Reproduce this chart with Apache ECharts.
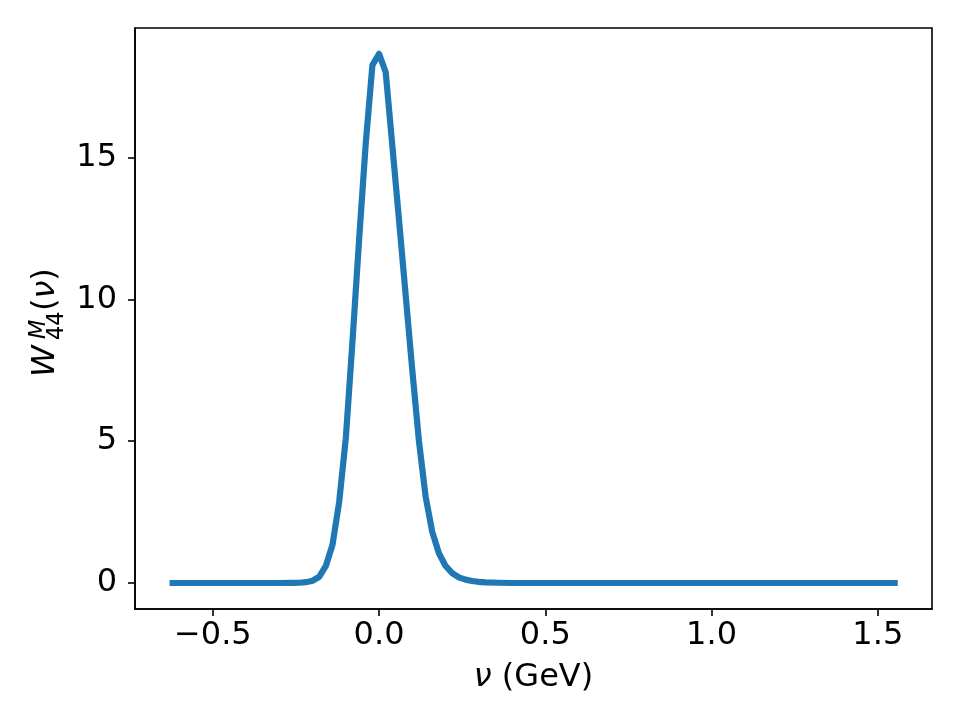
<!DOCTYPE html>
<html>
<head>
<meta charset="utf-8">
<script src="https://cdn.jsdelivr.net/npm/echarts@6/dist/echarts.min.js"></script>
<style>html,body{margin:0;padding:0;background:#fff}#c{width:960px;height:720px}</style>
</head>
<body>
<div id="c"></div>
<script>
// Data
var nu = [-0.63, -0.30, -0.26, -0.24, -0.22, -0.20, -0.18, -0.16, -0.14, -0.12, -0.10, -0.08, -0.06, -0.04, -0.02, 0.00,
          0.02, 0.04, 0.06, 0.08, 0.10, 0.12, 0.14, 0.16, 0.18, 0.20, 0.22, 0.24, 0.26, 0.28, 0.30, 0.32, 0.36, 0.40, 1.56];
var W44 = [0, 0, 0.005, 0.01, 0.03, 0.08, 0.22, 0.6, 1.35, 2.85, 5.1, 8.5, 12.1, 15.5, 18.25, 18.65,
           18.0, 15.4, 12.8, 10.15, 7.5, 5.0, 3.05, 1.8, 1.05, 0.6, 0.35, 0.2, 0.12, 0.07, 0.04, 0.02, 0.01, 0, 0];
var xTicks = [-0.5, 0.0, 0.5, 1.0, 1.5];
var yTicks = [0, 5, 10, 15];

var FONT = '"DejaVu Sans"';
var series = nu.map(function (v, i) { return [v, W44[i]]; });

var chart = echarts.init(document.getElementById('c'), null, {renderer: 'canvas'});
chart.setOption({
  animation: false,
  backgroundColor: '#ffffff',
  grid: {left: 135, top: 28, width: 797, height: 581, show: true, borderColor: '#000', borderWidth: 1.6, backgroundColor: 'transparent'},
  xAxis: {
    type: 'value', min: -0.734, max: 1.663,
    splitLine: {show: false},
    axisLine: {show: true, onZero: false, lineStyle: {color: '#000', width: 1.6}},
    axisTick: {show: true, length: 7, lineStyle: {color: '#000', width: 1.6}, customValues: xTicks},
    axisLabel: {
      customValues: xTicks, margin: 11, color: '#000', fontFamily: FONT, fontSize: 32,
      formatter: function (v) { var s = v.toFixed(1); return v < 0 ? '\u2212' + s.slice(1) : s; }
    },
    name: '{i|\u03bd} (GeV)', nameLocation: 'middle', nameGap: 53,
    nameTextStyle: {color: '#000', fontFamily: FONT, fontSize: 32,
      rich: {i: {fontStyle: 'italic', fontFamily: FONT, fontSize: 32, color: '#000'}}}
  },
  yAxis: {
    type: 'value', min: -0.916, max: 19.56,
    splitLine: {show: false},
    axisLine: {show: true, onZero: false, lineStyle: {color: '#000', width: 1.6}},
    axisTick: {show: true, length: 7, lineStyle: {color: '#000', width: 1.6}, customValues: yTicks},
    axisLabel: {customValues: yTicks, margin: 18, color: '#000', fontFamily: FONT, fontSize: 32}
  },
  graphic: [{
    type: 'group', x: 57, y: 377, rotation: Math.PI / 2,
    children: [
      {type: 'text', x: 0, y: -11.7, style: {text: 'W', font: 'italic 32px ' + FONT, fill: '#000', align: 'left', verticalAlign: 'middle'}},
      {type: 'text', x: 38, y: -18.2, style: {text: 'M', font: 'italic 22.4px ' + FONT, fill: '#000', align: 'left', verticalAlign: 'middle'}},
      {type: 'text', x: 37, y: 0, style: {text: '44', font: '22.4px ' + FONT, fill: '#000', align: 'left', verticalAlign: 'middle'}},
      {type: 'text', x: 66, y: -11.7, style: {text: '({i|\u03bd})', font: '32px ' + FONT, fill: '#000', align: 'left', verticalAlign: 'middle',
        rich: {i: {fontStyle: 'italic', fontFamily: FONT, fontSize: 32, fill: '#000'}}}}
    ]
  }],
  series: [{
    type: 'line', data: series, showSymbol: false, symbol: 'none', smooth: false,
    lineStyle: {color: '#1f77b4', width: 6.2, join: 'round', cap: 'butt'},
    itemStyle: {color: '#1f77b4'}
  }]
});
</script>
</body>
</html>
